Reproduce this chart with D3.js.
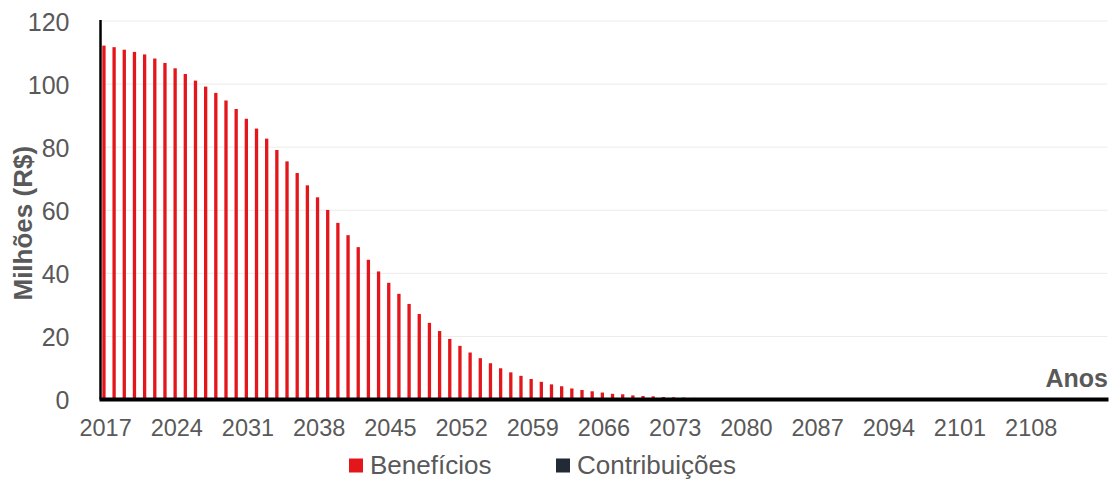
<!DOCTYPE html>
<html>
<head>
<meta charset="utf-8">
<script src="https://cdn.jsdelivr.net/npm/d3@7"></script>
<style>
  html, body { margin: 0; padding: 0; background: #fff; }
  svg { display: block; font-family: "Liberation Sans", Arial, sans-serif; }
</style>
</head>
<body>
<svg id="chart" width="1111" height="479"></svg>
<script>
// Annual cash flows, in millions of R$
const years = d3.range(2017, 2116);
const beneficios = [
  112.2, 111.7, 110.9, 110.2, 109.4, 108.1, 106.7, 105.0, 103.2, 101.1,
  99.2, 97.2, 94.8, 92.1, 89.0, 85.9, 82.7, 79.1, 75.5, 71.8,
  67.9, 64.1, 60.1, 56.0, 52.1, 48.3, 44.3, 40.6, 37.0, 33.5,
  30.3, 27.1, 24.3, 21.7, 19.2, 17.0, 14.9, 13.1, 11.5, 9.9,
  8.6, 7.5, 6.5, 5.6, 4.8, 4.2, 3.5, 3.0, 2.6, 2.2,
  1.8, 1.65, 1.3, 1.1, 1.0, 0.8, 0.7, 0.6, 0.5, 0.4,
  0.3, 0.25, 0.2, 0.15, 0.1, 0.08, 0.06, 0.04, 0.03, 0.02,
  0.01, 0, 0, 0, 0, 0, 0, 0, 0, 0,
  0, 0, 0, 0, 0, 0, 0, 0, 0, 0,
  0, 0, 0, 0, 0, 0, 0, 0, 0
];
const contribuicoes = [
  0, 0, 0, 0, 0, 0, 0, 0, 0, 0,
  0, 0, 0, 0, 0, 0, 0, 0, 0, 0,
  0, 0, 0, 0, 0, 0, 0, 0, 0, 0,
  0, 0, 0, 0, 0, 0, 0, 0, 0, 0,
  0, 0, 0, 0, 0, 0, 0, 0, 0, 0,
  0, 0, 0, 0, 0, 0, 0, 0, 0, 0,
  0, 0, 0, 0, 0, 0, 0, 0, 0, 0,
  0, 0, 0, 0, 0, 0, 0, 0, 0, 0,
  0, 0, 0, 0, 0, 0, 0, 0, 0, 0,
  0, 0, 0, 0, 0, 0, 0, 0, 0
];
const seriesNames = ["Benefícios", "Contribuições"];
const seriesColors = ["#e3161b", "#222a35"];
const yTicks = [0, 20, 40, 60, 80, 100, 120];
const xTickYears = [2017, 2024, 2031, 2038, 2045, 2052, 2059, 2066, 2073, 2080, 2087, 2094, 2101, 2108];

const svg = d3.select("#chart");
const textColor = "#595959";
const plotLeft = 100.5, plotRight = 1107.5, plotTop = 21, plotBottom = 399.5;

const x = d3.scaleBand().domain(years).range([plotLeft, plotRight]).paddingInner(0.35).paddingOuter(0.175);
const xSub = d3.scaleBand().domain(seriesNames).range([0, x.bandwidth()]);
const y = d3.scaleLinear().domain([0, 120]).range([plotBottom, plotTop]);

// horizontal gridlines
svg.append("g")
  .selectAll("line")
  .data(yTicks.filter(d => d > 0))
  .join("line")
  .attr("x1", plotLeft).attr("x2", plotRight)
  .attr("y1", d => y(d)).attr("y2", d => y(d))
  .attr("stroke", "#ebebeb").attr("stroke-width", 1);

// bars
const series = [beneficios, contribuicoes];
const barGroup = svg.append("g");
series.forEach((vals, si) => {
  barGroup.append("g")
    .selectAll("rect")
    .data(years.map((yr, i) => ({ yr, v: vals[i] })))
    .join("rect")
    .attr("x", d => x(d.yr) + xSub(seriesNames[si]))
    .attr("width", xSub.bandwidth())
    .attr("y", d => y(Math.max(0, d.v)))
    .attr("height", d => Math.abs(y(d.v) - y(0)))
    .attr("fill", seriesColors[si]);
});

// y axis
const yAxis = d3.axisLeft(y).tickValues(yTicks).tickSize(0).tickPadding(31);
const gy = svg.append("g").attr("transform", `translate(${plotLeft},0)`).call(yAxis);
gy.select(".domain").remove();
gy.selectAll("text")
  .attr("fill", textColor)
  .style("font-size", "25px")
  .attr("dy", "0.36em");
svg.append("line")
  .attr("x1", plotLeft).attr("x2", plotLeft)
  .attr("y1", plotTop - 1).attr("y2", plotBottom)
  .attr("stroke", "#000").attr("stroke-width", 2.5);

// x axis
const xAxis = d3.axisBottom(x).tickValues(xTickYears).tickSize(0).tickPadding(19.5);
const gx = svg.append("g").attr("transform", `translate(0,${plotBottom})`).call(xAxis);
gx.select(".domain").remove();
gx.selectAll("text")
  .attr("fill", textColor)
  .style("font-size", "23.5px");
svg.append("line")
  .attr("x1", plotLeft - 1).attr("x2", plotRight + 1)
  .attr("y1", plotBottom).attr("y2", plotBottom)
  .attr("stroke", "#000").attr("stroke-width", 4);

// axis titles
svg.append("text")
  .attr("transform", `translate(32,${(plotTop + plotBottom) / 2 + 13}) rotate(-90)`)
  .attr("text-anchor", "middle")
  .attr("fill", textColor)
  .style("font-size", "26px")
  .style("font-weight", "bold")
  .text("Milhões (R$)");

svg.append("text")
  .attr("x", 1108).attr("y", 387)
  .attr("text-anchor", "end")
  .attr("fill", textColor)
  .style("font-size", "25px")
  .style("font-weight", "bold")
  .text("Anos");

// legend
const legendItems = [
  { name: seriesNames[0], color: seriesColors[0], x: 349 },
  { name: seriesNames[1], color: seriesColors[1], x: 556 }
];
const lg = svg.append("g");
legendItems.forEach(it => {
  lg.append("rect")
    .attr("x", it.x).attr("y", 458.5)
    .attr("width", 14).attr("height", 14)
    .attr("fill", it.color);
  lg.append("text")
    .attr("x", it.x + 21).attr("y", 473.5)
    .attr("fill", textColor)
    .style("font-size", "26px")
    .text(it.name);
});
</script>
</body>
</html>
